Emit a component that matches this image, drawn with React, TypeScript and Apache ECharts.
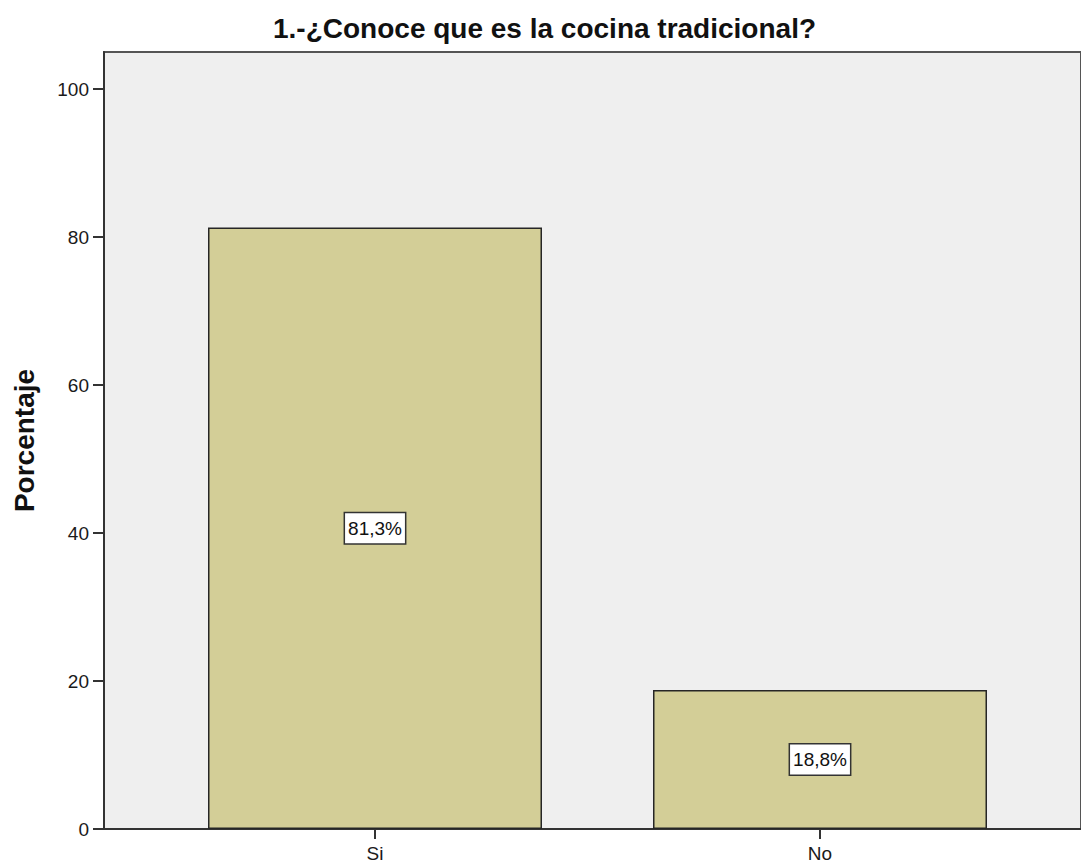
import React, { useEffect, useRef } from "react";
import * as echarts from "echarts";

const categories = ["Si", "No"];
const percentages = [81.3, 18.8];
const yTicks = [0, 20, 40, 60, 80, 100];
const yMax = 105;
const titleText = "1.-¿Conoce que es la cocina tradicional?";
const yName = "Porcentaje";

const FONT = "'Liberation Sans', Arial, sans-serif";

export default function App() {
  const ref = useRef<HTMLDivElement>(null);
  useEffect(() => {
    if (!ref.current) return;
    const chart = echarts.init(ref.current, null, { renderer: "svg" });
    chart.setOption({
      animation: false,
      backgroundColor: "#ffffff",
      textStyle: { fontFamily: FONT },
      title: {
        text: titleText,
        left: 268,
        top: 9,
        textStyle: { fontFamily: FONT, fontSize: 28, fontWeight: "bold", color: "#111" },
      },
      grid: [
        {
          left: 104,
          top: 52,
          width: 1000,
          height: 777,
          show: true,
          backgroundColor: "#efefef",
          borderColor: "#555",
          borderWidth: 2,
        },
        { left: 152.5, top: 52, width: 890, height: 777 },
      ],
      xAxis: [
        {
          gridIndex: 0,
          type: "value",
          min: 0,
          max: 1,
          axisLine: { show: true, lineStyle: { color: "#333", width: 2 } },
          axisTick: { show: false },
          axisLabel: { show: false },
          splitLine: { show: false },
        },
        {
          gridIndex: 1,
          type: "category",
          data: categories,
          axisLine: { show: false },
          axisTick: { show: true, alignWithLabel: true, length: 10, lineStyle: { color: "#333", width: 2 } },
          axisLabel: { margin: 15, fontSize: 19, color: "#1a1a1a", fontFamily: FONT },
        },
      ],
      yAxis: [
        {
          gridIndex: 0,
          type: "value",
          min: 0,
          max: yMax,
          interval: 20,
          name: yName,
          nameLocation: "middle",
          nameRotate: 90,
          nameGap: 66,
          nameTextStyle: { fontFamily: FONT, fontSize: 28, fontWeight: "bold", color: "#111" },
          axisLine: { show: true, lineStyle: { color: "#333", width: 2 } },
          axisTick: { show: true, length: 11, customValues: yTicks, lineStyle: { color: "#333", width: 2 } },
          axisLabel: { margin: 15, fontSize: 19, color: "#1a1a1a", fontFamily: FONT, customValues: yTicks },
          splitLine: { show: false },
        },
        {
          gridIndex: 1,
          type: "value",
          min: 0,
          max: yMax,
          show: false,
          splitLine: { show: false },
        },
      ],
      series: [
        {
          type: "bar",
          xAxisIndex: 1,
          yAxisIndex: 1,
          data: percentages,
          barWidth: 334,
          itemStyle: { color: "#d3ce97", borderColor: "#262626", borderWidth: 1.5 },
          label: {
            show: true,
            position: "inside",
            formatter: (p: any) => p.value.toFixed(1).replace(".", ",") + "%",
            fontFamily: FONT,
            fontSize: 19,
            color: "#111",
            backgroundColor: "#ffffff",
            borderColor: "#333",
            borderWidth: 1.5,
            padding: [6, 3, 5, 3],
          },
        },
      ],
    });
    return () => chart.dispose();
  }, []);
  return (
    <div
      ref={ref}
      style={{ position: "absolute", left: 0, top: 0, width: 1081, height: 865, background: "#fff" }}
    />
  );
}
